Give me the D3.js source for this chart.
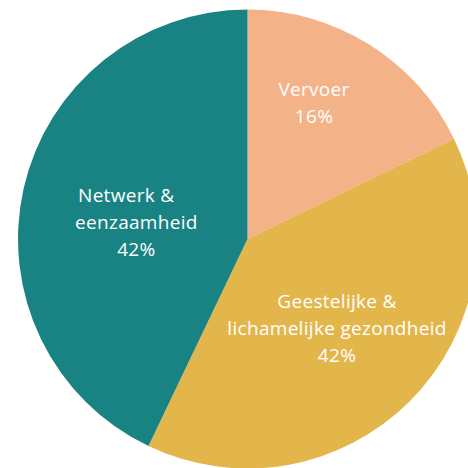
<!DOCTYPE html>
<html>
<head>
<meta charset="utf-8">
<script src="https://cdn.jsdelivr.net/npm/d3@7"></script>
<style>
  body { margin: 0; background: #fff; }
</style>
</head>
<body>
<div id="chart"></div>
<script>
  // slice shares as drawn (the printed labels are rounded differently)
  const categories = ["Vervoer", "Geestelijke & lichamelijke gezondheid", "Netwerk & eenzaamheid"];
  const shares = [17.8, 39.3, 42.9];
  const labelLines = [
    ["Vervoer", "16%"],
    ["Geestelijke &", "lichamelijke gezondheid", "42%"],
    ["Netwerk &", "eenzaamheid", "42%"]
  ];
  const colors = ["#F4B289", "#E3B64B", "#198383"];

  const width = 468;
  const height = 468;
  const cx = 247.5, cy = 239, radius = 229.5;

  // label placement: radius factor and angle nudge (deg) per slice
  const labelR = [0.66, 0.55, 0.49];
  const labelNudge = [-6, 0, -4];

  const svg = d3.select("#chart")
    .append("svg")
    .attr("width", width)
    .attr("height", height)
    .style("background", "#fff");

  const g = svg.append("g")
    .attr("transform", `translate(${cx},${cy})`);

  const pie = d3.pie().sort(null).value(d => d);
  const arcs = pie(shares);

  const arc = d3.arc().innerRadius(0).outerRadius(radius);

  g.selectAll("path")
    .data(arcs)
    .enter().append("path")
    .attr("d", arc)
    .attr("fill", (d, i) => colors[i]);

  const lineH = 27;

  const labels = g.selectAll("text.label")
    .data(arcs)
    .enter().append("text")
    .attr("class", "label")
    .attr("text-anchor", "middle")
    .attr("font-family", "'Open Sans', sans-serif")
    .attr("font-size", "19px")
    .attr("letter-spacing", "0.3px")
    .attr("fill", "#fff")
    .attr("transform", (d, i) => {
      const a = (d.startAngle + d.endAngle) / 2 + labelNudge[i] * Math.PI / 180;
      const r = radius * labelR[i];
      return `translate(${r * Math.sin(a)},${-r * Math.cos(a)})`;
    });

  labels.each(function(d, i) {
    const lines = labelLines[i];
    const top = -(lines.length - 1) * lineH / 2 + 7;
    d3.select(this).selectAll("tspan")
      .data(lines)
      .enter().append("tspan")
      .attr("x", 0)
      .attr("y", (t, j) => top + j * lineH)
      .text(t => t);
  });

  // in the original the first line of the teal label hugs the left edge of the second
  const teal = labels.filter((d, i) => i === 2);
  const tsp = teal.selectAll("tspan").nodes();
  const w2 = tsp[1].getComputedTextLength();
  const w1 = tsp[0].getComputedTextLength();
  d3.select(tsp[0]).attr("x", -w2 / 2 + 3 + w1 / 2);
</script>
</body>
</html>
